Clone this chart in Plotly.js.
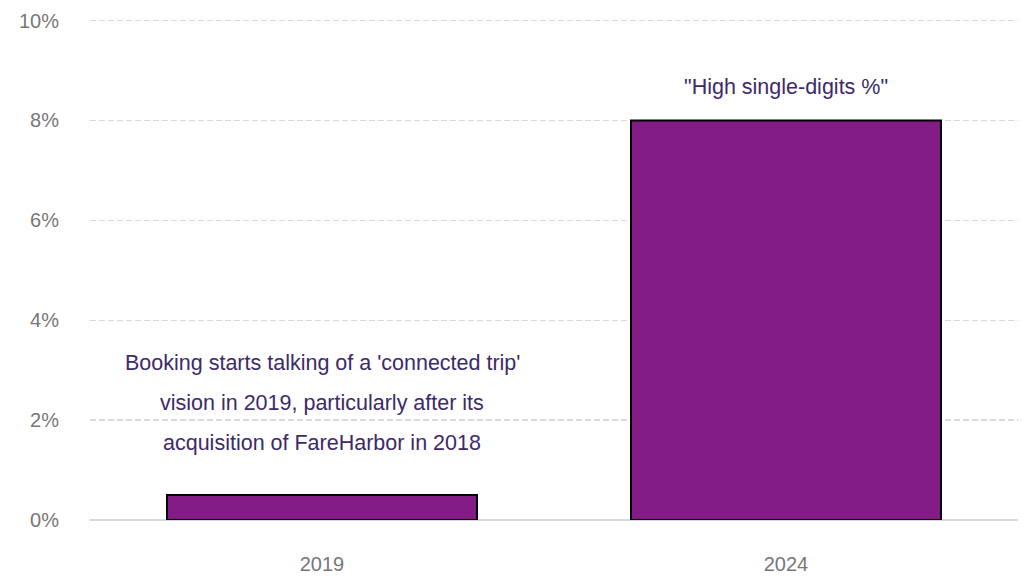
<!DOCTYPE html>
<html>
<head>
<meta charset="utf-8">
<script src="https://cdn.plot.ly/plotly-3.0.1.min.js"></script>
<style>html,body{margin:0;padding:0;background:#fff;}#chart{width:1026px;height:576px;}</style>
</head>
<body>
<div id="chart"></div>
<script>
const categories = ['2019', '2024'];
const values = [0.5, 8];
const noteLeftLines = ["Booking starts talking of a 'connected trip'", "vision in 2019, particularly after its", "acquisition of FareHarbor in 2018"];
const noteLeftY = [3.14, 2.34, 1.54];
const noteRight = '"High single-digits %"';
const noteRightY = 8.66;
const yTicks = [0, 2, 4, 6, 8, 10];
const yTickText = ['0%', '2%', '4%', '6%', '8%', '10%'];

const font = 'Liberation Sans, Arial, sans-serif';
const annColor = '#3d2a6a';
const annotations = noteLeftLines.map((t, i) => ({
  x: 0, y: noteLeftY[i], xref: 'x', yref: 'y', text: t,
  showarrow: false, font: {family: font, size: 21.5, color: annColor}
}));
annotations.push({
  x: 1, y: noteRightY, xref: 'x', yref: 'y', text: noteRight,
  showarrow: false, font: {family: font, size: 21.5, color: annColor}
});

Plotly.newPlot('chart', [{
  type: 'bar', x: categories, y: values,
  marker: {color: '#831c87', line: {color: '#000', width: 2}},
  hoverinfo: 'skip'
}], {
  width: 1026, height: 576,
  margin: {l: 90, r: 8, t: 17.5, b: 56},
  paper_bgcolor: '#fff', plot_bgcolor: '#fff',
  bargap: 0.332,
  showlegend: false,
  font: {family: font, size: 20, color: '#777'},
  xaxis: {type: 'category', categoryorder: 'array', categoryarray: categories, range: [-0.5, 1.5],
          showgrid: false, showline: false, ticks: '', ticklabelstandoff: 30,
          tickfont: {family: font, size: 20, color: '#777'}},
  yaxis: {range: [0, 10.05], tickvals: yTicks, ticktext: yTickText, showgrid: true,
          gridcolor: '#d9d9d9', griddash: '6px,3px', gridwidth: 1.3, zeroline: true,
          zerolinecolor: '#d9d9d9', zerolinewidth: 2, showline: false, ticks: '',
          ticklabelstandoff: 30, tickfont: {family: font, size: 20, color: '#777'}},
  annotations: annotations
}, {displayModeBar: false, staticPlot: true});
</script>
</body>
</html>
